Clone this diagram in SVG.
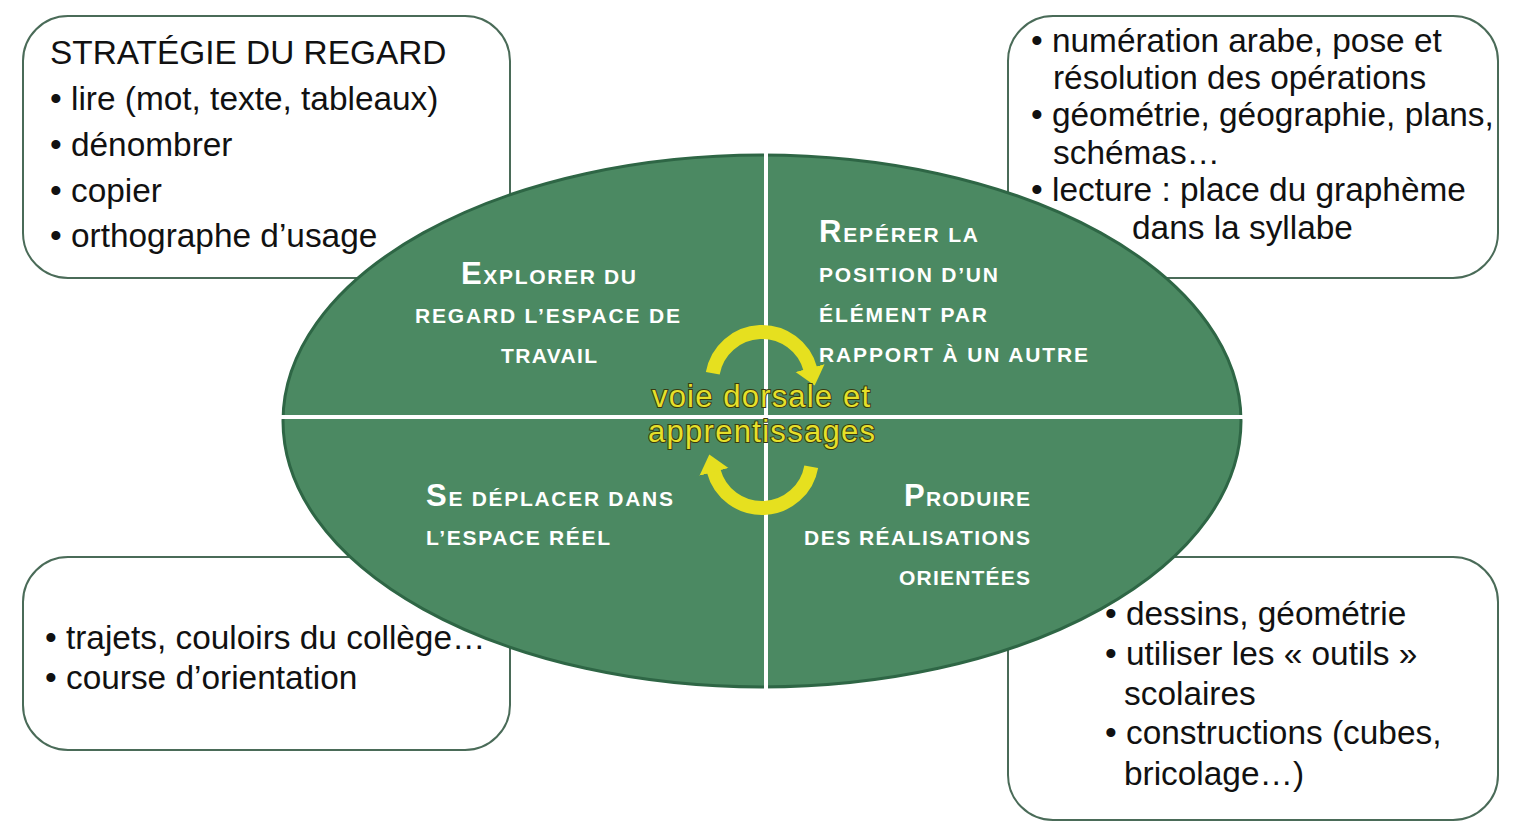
<svg xmlns="http://www.w3.org/2000/svg" width="1528" height="825" viewBox="0 0 1528 825">
<defs>
<style>
.box{fill:#ffffff;stroke:#4a6b58;stroke-width:2}
.bt{font-family:"Liberation Sans",Arial,Helvetica,sans-serif;font-size:33.4px;fill:#111111}
.el{font-family:"Liberation Sans",Arial,Helvetica,sans-serif;font-weight:bold;font-size:21px;fill:#ffffff}
.cap{font-size:31px}
.arc{fill:none;stroke:#e6e01f;stroke-width:14}
.ctr{font-family:"Liberation Sans",Arial,Helvetica,sans-serif;font-size:31px;fill:#e6e02a;stroke:#3a3a10;stroke-width:2px;paint-order:stroke}
.div{stroke:#ffffff;stroke-width:4}
</style>
<marker id="ah" markerUnits="userSpaceOnUse" markerWidth="19" markerHeight="32" viewBox="-1 -16 19 32" refX="0" refY="0" orient="auto">
<path d="M-1,-15 L17,0 L-1,15 Z" fill="#e6e01f"/>
</marker>
</defs>
<rect width="1528" height="825" fill="#ffffff"/>

<g id="box-frames">
<rect id="box-tl-frame" class="box" x="23" y="16" width="487" height="262" rx="45" ry="45"/>
<rect id="box-tr-frame" class="box" x="1008" y="16" width="490" height="262" rx="45" ry="45"/>
<rect id="box-bl-frame" class="box" x="23" y="557" width="487" height="193" rx="45" ry="45"/>
<rect id="box-br-frame" class="box" x="1008" y="557" width="490" height="263" rx="45" ry="45"/>
</g>

<g id="ellipse">
<ellipse cx="762" cy="421" rx="479" ry="266" fill="#4b8962" stroke="#2e6645" stroke-width="3"/>
<line class="div" x1="281" y1="417" x2="1243" y2="417"/>
<line class="div" x1="766" y1="152" x2="766" y2="690"/>
</g>

<g id="q-explorer">
<text class="el" x="461" y="284" textLength="175" lengthAdjust="spacing"><tspan class="cap">E</tspan>XPLORER DU</text>
<text class="el" x="415" y="323" textLength="265" lengthAdjust="spacing">REGARD L’ESPACE DE</text>
<text class="el" x="501" y="363" textLength="96" lengthAdjust="spacing">TRAVAIL</text>
</g>

<g id="q-reperer">
<text class="el" x="819" y="242" textLength="159" lengthAdjust="spacing"><tspan class="cap">R</tspan>EPÉRER LA</text>
<text class="el" x="819" y="282" textLength="179" lengthAdjust="spacing">POSITION D’UN</text>
<text class="el" x="819" y="322" textLength="168" lengthAdjust="spacing">ÉLÉMENT PAR</text>
<text class="el" x="819" y="362" textLength="269" lengthAdjust="spacing">RAPPORT À UN AUTRE</text>
</g>

<g id="q-deplacer">
<text class="el" x="426" y="506" textLength="247" lengthAdjust="spacing"><tspan class="cap">S</tspan>E DÉPLACER DANS</text>
<text class="el" x="426" y="545" textLength="184" lengthAdjust="spacing">L’ESPACE RÉEL</text>
</g>

<g id="q-produire">
<text class="el" x="904" y="506" textLength="126" lengthAdjust="spacing"><tspan class="cap">P</tspan>RODUIRE</text>
<text class="el" x="804" y="545" textLength="226" lengthAdjust="spacing">DES RÉALISATIONS</text>
<text class="el" x="899" y="585" textLength="131" lengthAdjust="spacing">ORIENTÉES</text>
</g>

<g id="connectors">
<path class="arc" d="M712.76,373.32 A50,50 0 0 1 810.30,369.06" marker-end="url(#ah)"/>
<path class="arc" d="M811.24,466.68 A50,50 0 0 1 713.70,470.94" marker-end="url(#ah)"/>
</g>

<g id="center-label">
<text class="ctr" x="652" y="407" textLength="218" lengthAdjust="spacing">voie dorsale et</text>
<text class="ctr" x="648" y="442" textLength="227" lengthAdjust="spacing">apprentissages</text>
</g>

<g id="box-tl">
<text class="bt" x="50" y="64">STRATÉGIE DU REGARD</text>
<text class="bt" x="50" y="110">• lire (mot, texte, tableaux)</text>
<text class="bt" x="50" y="156">• dénombrer</text>
<text class="bt" x="50" y="202">• copier</text>
<text class="bt" x="50" y="247">• orthographe d’usage</text>
</g>

<g id="box-tr">
<text class="bt" x="1031" y="52">• numération arabe, pose et</text>
<text class="bt" x="1053" y="89">résolution des opérations</text>
<text class="bt" x="1031" y="126">• géométrie, géographie, plans,</text>
<text class="bt" x="1053" y="164">schémas…</text>
<text class="bt" x="1031" y="201">• lecture : place du graphème</text>
<text class="bt" x="1132" y="239">dans la syllabe</text>
</g>

<g id="box-bl">
<text class="bt" x="45" y="649">• trajets, couloirs du collège…</text>
<text class="bt" x="45" y="689">• course d’orientation</text>
</g>

<g id="box-br">
<text class="bt" x="1105" y="625">• dessins, géométrie</text>
<text class="bt" x="1105" y="665">• utiliser les « outils »</text>
<text class="bt" x="1124" y="705">scolaires</text>
<text class="bt" x="1105" y="744">• constructions (cubes,</text>
<text class="bt" x="1124" y="785">bricolage…)</text>
</g>
</svg>
